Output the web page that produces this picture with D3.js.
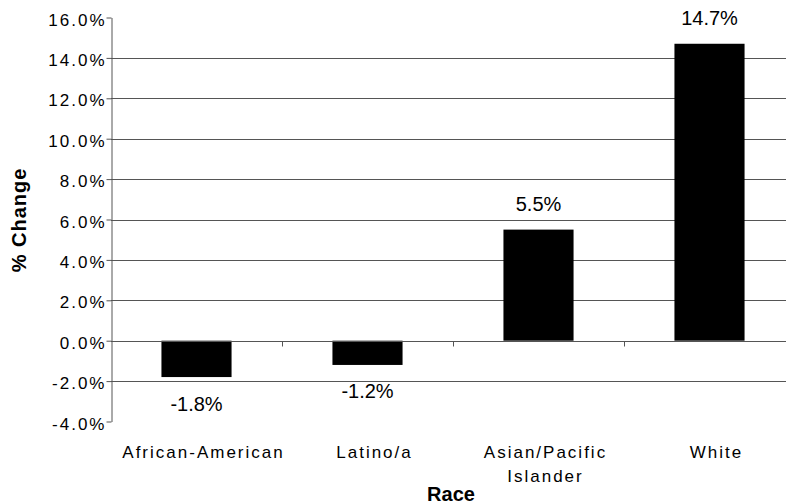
<!DOCTYPE html>
<html>
<head>
<meta charset="utf-8">
<script src="https://cdn.jsdelivr.net/npm/d3@7"></script>
<style>
  html, body { margin: 0; padding: 0; background: #fff; }
  svg { display: block; font-family: "Liberation Sans", Arial, Helvetica, sans-serif; }
</style>
</head>
<body>
<svg id="chart" width="786" height="504"></svg>
<script>
// Percent change by race
const categories = ["African-American", "Latino/a", "Asian/Pacific Islander", "White"];
const categoryLines = [["African-American"], ["Latino/a"], ["Asian/Pacific", "Islander"], ["White"]];
const values = [-1.8, -1.2, 5.5, 14.7];
const valueLabels = ["-1.8%", "-1.2%", "5.5%", "14.7%"];
const yTicks = [-4, -2, 0, 2, 4, 6, 8, 10, 12, 14, 16];

const svg = d3.select("#chart");
const plotLeft = 111, plotRight = 795, plotTop = 17.5, plotBottom = 421.5;
const gridColor = "#555";

const y = d3.scaleLinear().domain([-4, 16]).range([plotBottom, plotTop]);

// band boundaries (one full slot per category)
const xSlot = d3.scaleBand().domain(categories).range([plotLeft, plotRight]).padding(0);
// bars occupy the middle part of each slot
const x = d3.scaleBand().domain(categories).range([plotLeft, plotRight])
  .paddingInner(0.59).paddingOuter(0.295);

// horizontal gridlines
svg.append("g")
  .selectAll("line")
  .data(yTicks.filter(d => d !== -4 && d !== 0 && d !== 16))
  .join("line")
  .attr("x1", plotLeft).attr("x2", plotRight)
  .attr("y1", d => Math.round(y(d)) + 0.5).attr("y2", d => Math.round(y(d)) + 0.5)
  .attr("stroke", gridColor).attr("stroke-width", 1);

// bars
svg.append("g")
  .selectAll("rect")
  .data(values)
  .join("rect")
  .attr("x", (d, i) => x(categories[i]))
  .attr("width", x.bandwidth())
  .attr("y", d => y(Math.max(0, d)))
  .attr("height", d => Math.abs(y(d) - y(0)))
  .attr("fill", "#000");

// zero line with slot dividers
const zeroY = Math.round(y(0)) + 0.5;
const xAxis = svg.append("g");
xAxis.append("line")
  .attr("x1", plotLeft).attr("x2", plotRight)
  .attr("y1", zeroY).attr("y2", zeroY)
  .attr("stroke", gridColor);
xAxis.selectAll("line.div")
  .data(categories.slice(1))
  .join("line")
  .attr("class", "div")
  .attr("x1", d => Math.round(xSlot(d)) + 0.5).attr("x2", d => Math.round(xSlot(d)) + 0.5)
  .attr("y1", zeroY).attr("y2", zeroY + 5)
  .attr("stroke", gridColor);

// y axis
const yAxis = svg.append("g")
  .attr("transform", `translate(${plotLeft + 0.5},0)`)
  .call(d3.axisLeft(y).tickValues(yTicks)
    .tickFormat(d => d.toFixed(1) + "%")
    .tickSize(5).tickPadding(0).tickSizeOuter(0));
yAxis.select(".domain").attr("stroke", gridColor);
yAxis.selectAll(".tick line").attr("stroke", gridColor);
yAxis.selectAll(".tick text")
  .attr("dy", "0.45em")
  .attr("fill", "#000")
  .style("font-size", "17px")
  .style("letter-spacing", "2px")
  .style("font-family", "\"Liberation Sans\", Arial, sans-serif");

// value labels
svg.append("g")
  .selectAll("text")
  .data(values)
  .join("text")
  .attr("x", (d, i) => x(categories[i]) + x.bandwidth() / 2)
  .attr("y", d => d >= 0 ? y(d) - 19 : y(d) + 33.5)
  .attr("text-anchor", "middle")
  .style("font-size", "20px")
  .attr("fill", "#000")
  .text((d, i) => valueLabels[i]);

// category labels
const catG = svg.append("g");
categoryLines.forEach((lines, i) => {
  const cx = xSlot(categories[i]) + xSlot.bandwidth() / 2 + 7;
  const t = catG.append("text")
    .attr("x", cx)
    .attr("y", 457.5)
    .attr("text-anchor", "middle")
    .style("font-size", "17px")
    .style("letter-spacing", "2px")
    .attr("fill", "#000");
  lines.forEach((ln, j) => {
    t.append("tspan")
      .attr("x", cx)
      .attr("dy", j === 0 ? 0 : 24)
      .text(ln);
  });
});

// axis titles
svg.append("text")
  .attr("x", 451)
  .attr("y", 501)
  .attr("text-anchor", "middle")
  .style("font-size", "20px")
  .style("font-weight", "bold")
  .text("Race");

svg.append("text")
  .attr("transform", "translate(26,220) rotate(-90)")
  .attr("text-anchor", "middle")
  .style("font-size", "20px")
  .style("font-weight", "bold")
  .style("letter-spacing", "1px")
  .text("% Change");
</script>
</body>
</html>
